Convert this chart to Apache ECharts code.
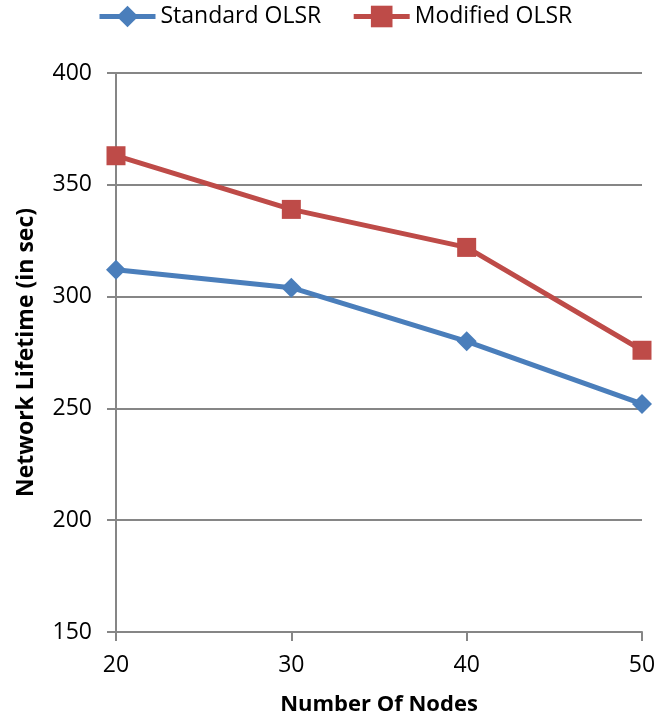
<!DOCTYPE html>
<html>
<head>
<meta charset="utf-8">
<script src="https://cdn.jsdelivr.net/npm/echarts@6/dist/echarts.min.js"></script>
<style>
  html, body { margin: 0; padding: 0; background: #fff; }
  #chart { width: 672px; height: 720px; }
</style>
</head>
<body>
<div id="chart"></div>
<script>
// Network lifetime versus number of nodes for two OLSR variants
const nodes = [20, 30, 40, 50];
const standardOlsr = [312, 304, 280, 252];
const modifiedOlsr = [363, 339, 322, 276];
const yTicks = [150, 200, 250, 300, 350, 400];

const FONT = '"Open Sans", "Liberation Sans", sans-serif';
const pairs = vals => nodes.map((n, i) => [n, vals[i]]);

const chart = echarts.init(document.getElementById('chart'));
chart.setOption({
  animation: false,
  textStyle: { fontFamily: FONT },
  legend: {
    top: 5,
    left: 97,
    padding: 0,
    itemWidth: 56,
    itemHeight: 27,
    itemGap: 30,
    lineStyle: { width: 5 },
    textStyle: { fontSize: 23, color: '#000', fontFamily: FONT },
    data: ['Standard OLSR', 'Modified OLSR']
  },
  grid: { left: 116, right: 30, top: 73, bottom: 88, outerBoundsMode: 'none', containLabel: false },
  xAxis: {
    type: 'value',
    min: nodes[0],
    max: nodes[nodes.length - 1],
    interval: 10,
    name: 'Number Of Nodes',
    nameLocation: 'middle',
    nameGap: 62,
    nameTextStyle: { fontSize: 22, fontWeight: 'bold', color: '#000', fontFamily: FONT },
    axisLine: { lineStyle: { color: '#868686', width: 2 } },
    axisTick: { show: true, length: 9, lineStyle: { color: '#868686', width: 2 } },
    axisLabel: { fontSize: 23, color: '#000', margin: 22, fontFamily: FONT },
    splitLine: { show: false }
  },
  yAxis: {
    type: 'value',
    min: yTicks[0],
    max: yTicks[yTicks.length - 1],
    interval: 50,
    name: 'Network Lifetime (in sec)',
    nameLocation: 'middle',
    nameGap: 78,
    nameRotate: 90,
    nameTextStyle: { fontSize: 23, fontWeight: 'bold', color: '#000', fontFamily: FONT },
    axisLine: { show: true, lineStyle: { color: '#868686', width: 2 } },
    axisTick: { show: true, length: 9, lineStyle: { color: '#868686', width: 2 } },
    axisLabel: { fontSize: 23, color: '#000', margin: 24, fontFamily: FONT },
    splitLine: { show: true, lineStyle: { color: '#868686', width: 2 } }
  },
  series: [
    {
      name: 'Standard OLSR',
      type: 'line',
      data: pairs(standardOlsr),
      symbol: 'diamond',
      symbolSize: 20,
      color: '#4A7EBB',
      lineStyle: { width: 5, color: '#4A7EBB' },
      itemStyle: { color: '#4A7EBB' },
      z: 3
    },
    {
      name: 'Modified OLSR',
      type: 'line',
      data: pairs(modifiedOlsr),
      symbol: 'rect',
      symbolSize: 19,
      color: '#BE4B48',
      lineStyle: { width: 5, color: '#BE4B48' },
      itemStyle: { color: '#BE4B48' },
      z: 4
    }
  ]
});
</script>
</body>
</html>
